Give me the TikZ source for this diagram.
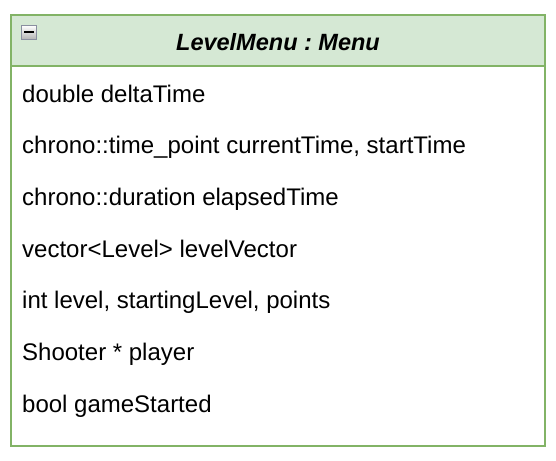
\documentclass[tikz,border=0pt]{standalone}
\usepackage{fontspec}
\setmainfont{Liberation Sans}
\frenchspacing
\definecolor{hdrfill}{HTML}{D5E8D4}
\definecolor{hdrline}{HTML}{82B366}
\definecolor{iconline}{HTML}{8A8FA0}
\begin{document}
\begin{tikzpicture}[x=1pt,y=-1pt,
  member/.style={anchor=base west,inner sep=0pt,font=\fontsize{24}{28}\selectfont},
  classbox/.style={draw=hdrline,line width=2pt}]
\useasboundingbox (0,0) rectangle (556,460);
% class outline and header compartment
\fill[hdrfill] (11,15) rectangle (545,66);
\draw[classbox] (11,15) rectangle (545,446);
\draw[classbox] (11,66) -- (545,66);
% collapse icon
\shade[top color=white,bottom color=gray!60,draw=iconline,line width=1.6pt] (21.5,25.5) rectangle (36.5,39.5);
\draw[line width=2pt] (24,32.5) -- (34,32.5);
\node[inner sep=0pt,anchor=base,font=\fontsize{23.5}{28}\selectfont\bfseries\itshape] (title) at (278,50) {LevelMenu : Menu};
% attributes
\node[member] (a1) at (22,102) {double deltaTime};
\node[member] (a2) at (22,153.5) {chrono::time\_point currentTime, startTime};
\node[member] (a3) at (22,205) {chrono::duration elapsedTime};
\node[member] (a4) at (22,257) {vector<Level> levelVector};
\node[member] (a5) at (22,308.5) {int level, startingLevel, points};
\node[member] (a6) at (22,360) {Shooter * player};
\node[member] (a7) at (22,412) {bool gameStarted};
\end{tikzpicture}
\end{document}
